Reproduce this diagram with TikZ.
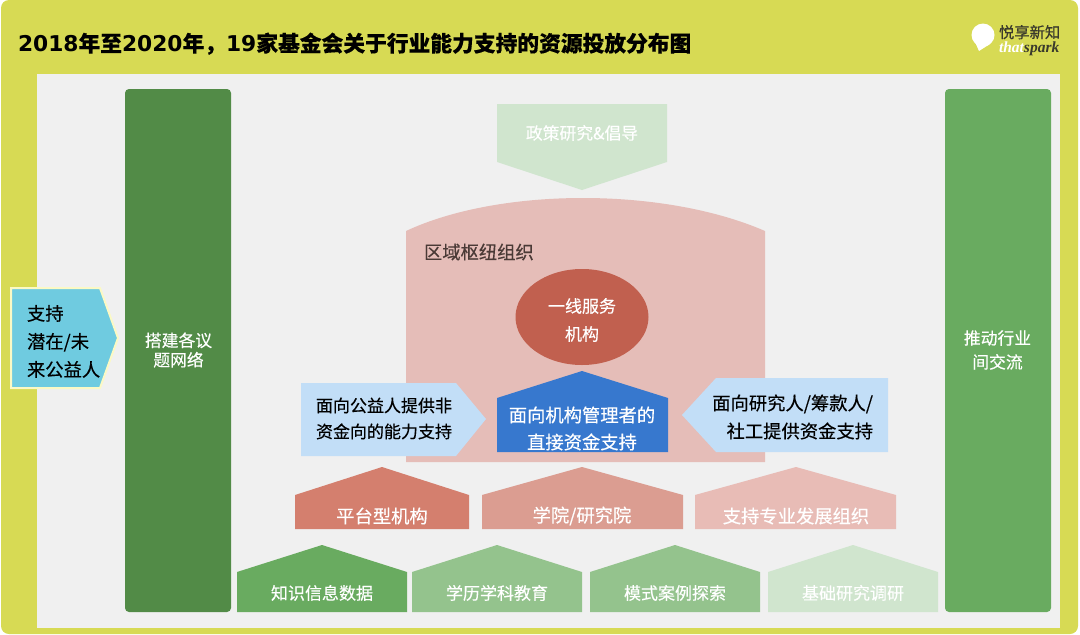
\documentclass[tikz,border=0pt]{standalone}
\usepackage{fontspec}
\usetikzlibrary{shapes.geometric}
\setmainfont{Noto Sans CJK SC}[FakeBold=0.35]
\newfontfamily\titlefont{Noto Sans CJK SC Bold}
\newfontfamily\digitfont{DejaVu Sans}
\newfontfamily\logofont{Liberation Serif}
\definecolor{frameY}{HTML}{D7DA54}
\definecolor{panelG}{HTML}{F0F0F0}
\definecolor{darkG}{HTML}{528B47}
\definecolor{midG}{HTML}{69AB60}
\definecolor{softG}{HTML}{94C38D}
\definecolor{paleG}{HTML}{D0E5CE}
\definecolor{regionR}{HTML}{E5BDB8}
\definecolor{coreR}{HTML}{C1604F}
\definecolor{platR}{HTML}{D47F6E}
\definecolor{collR}{HTML}{DB9D91}
\definecolor{supR}{HTML}{E8BCB6}
\definecolor{blueB}{HTML}{3778CE}
\definecolor{paleB}{HTML}{C2DEF7}
\definecolor{cyanB}{HTML}{6FCBE0}
\definecolor{paleY}{HTML}{FBF9C5}
\definecolor{logoD}{HTML}{3A3A2C}
\definecolor{regionT}{HTML}{4A3A36}
\tikzset{
  every node/.style={inner sep=0pt,outer sep=0pt},
  wlabel/.style={text=white,align=center,font=\fontsize{17}{26}\selectfont},
  wlabelL/.style={text=white,align=center,font=\fontsize{18.3}{27}\selectfont},
  klabel/.style={text=black,align=center,font=\fontsize{17}{26}\selectfont},
  klabelL/.style={text=black,align=left,font=\fontsize{18.3}{28}\selectfont},
  barshape/.style={rounded corners=4pt},
}
\begin{document}
\begin{tikzpicture}[x=1pt,y=-1pt]
\useasboundingbox (0,0) rectangle (1080,635);
\fill[white] (0,0) rectangle (1080,635);
\fill[frameY,rounded corners=8pt] (1,0) rectangle (1078,634);
\fill[panelG] (37,74) rectangle (1060,628);

% title
\node[anchor=base west,font=\bfseries\fontsize{21.75}{24}\selectfont] (title) at (18,51.5)
  {{\digitfont\bfseries 2018}年至{\digitfont\bfseries 2020}年，{\digitfont\bfseries 19}家基金会关于行业能力支持的资源投放分布图};

% logo
\fill[white] (983,35) circle[radius=11.5];
\fill[white] (975,42) -- (979,51) -- (990,44) -- cycle;
\node[text=logoD,anchor=base west,font=\fontsize{15.3}{18}\selectfont] (logocn) at (999,38) {悦享新知};
\node[anchor=base west,font=\logofont\bfseries\itshape\fontsize{15.5}{16}\selectfont] (logoen) at (999,52)
  {\textcolor{white}{that}\textcolor{logoD}{spark}};

% bars
\fill[darkG,barshape] (125,89) rectangle (231,612);
\fill[midG,barshape] (945,89) rectangle (1051,612);
\node[wlabel,font=\fontsize{16.8}{19.5}\selectfont] (network) at (178.5,350) {搭建各议\\题网络};
\node[wlabel,font=\fontsize{16.8}{24}\selectfont] (exchange) at (997.5,350) {推动行业\\间交流};

% left arrow
\draw[paleY,line width=2pt,fill=cyanB] (11,288) -- (100,288) -- (118,338) -- (100,388) -- (11,388) -- cycle;
\node[klabelL,anchor=north west,font=\fontsize{18.3}{28}\selectfont] (future) at (27,305) {支持\\潜在/未\\来公益人};

% policy
\fill[paleG] (497,104) -- (667,104) -- (667,162) -- (582,190) -- (497,162) -- cycle;
\node[text=white,font=\fontsize{16.8}{20}\selectfont] (policy) at (582,133) {政策研究\&倡导};

% region
\fill[regionR] (406,231) .. controls (500,187) and (664,187) .. (765,231) -- (765,462) -- (406,462) -- cycle;
\node[text=regionT,anchor=west,font=\fontsize{18.3}{22}\selectfont] (region) at (424,252) {区域枢纽组织};
\node[fill=coreR,ellipse,minimum width=133pt,minimum height=96pt] (core) at (582,317) {};
\node[wlabel,font=\fontsize{17}{28}\selectfont] (coretext) at (582,320) {一线服务\\机构};

% blue house
\fill[blueB] (497,452) -- (497,398) -- (582,371) -- (668,398) -- (668,452) -- cycle;
\node[wlabelL] (direct) at (582,428.5) {面向机构管理者的\\直接资金支持};

% side arrows
\fill[paleB] (301,383) -- (456,383) -- (486,419) -- (456,456) -- (301,456) -- cycle;
\node[klabel] (nonfund) at (384,418.5) {面向公益人提供非\\资金向的能力支持};
\fill[paleB] (888,378) -- (716,378) -- (682,415) -- (716,452) -- (888,452) -- cycle;
\node[klabelL,align=right,font=\fontsize{18.3}{28}\selectfont,anchor=east] (funding) at (873,417) {面向研究人/筹款人/\\社工提供资金支持};

% middle row
\fill[platR] (295,529) -- (295,495) -- (382,467) -- (469,495) -- (469,529) -- cycle;
\node[wlabelL] (plat) at (382,516) {平台型机构};
\fill[collR] (482,529) -- (482,495) -- (582,467) -- (683,495) -- (683,529) -- cycle;
\node[wlabelL] (coll) at (582,516) {学院/研究院};
\fill[supR] (695,529) -- (695,495) -- (796,467) -- (896,495) -- (896,529) -- cycle;
\node[wlabelL] (sup) at (796,516) {支持专业发展组织};

% bottom row
\fill[midG] (237,612) -- (237,572) -- (322,545) -- (407,572) -- (407,612) -- cycle;
\node[wlabel] (know) at (322,593) {知识信息数据};
\fill[softG] (412,612) -- (412,572) -- (497,545) -- (582,572) -- (582,612) -- cycle;
\node[wlabel] (edu) at (497,593) {学历学科教育};
\fill[softG] (590,612) -- (590,572) -- (675,545) -- (760,572) -- (760,612) -- cycle;
\node[wlabel] (model) at (675,593) {模式案例探索};
\fill[paleG] (768,612) -- (768,572) -- (853,545) -- (938,572) -- (938,612) -- cycle;
\node[wlabel] (basic) at (853,593) {基础研究调研};
\end{tikzpicture}
\end{document}
